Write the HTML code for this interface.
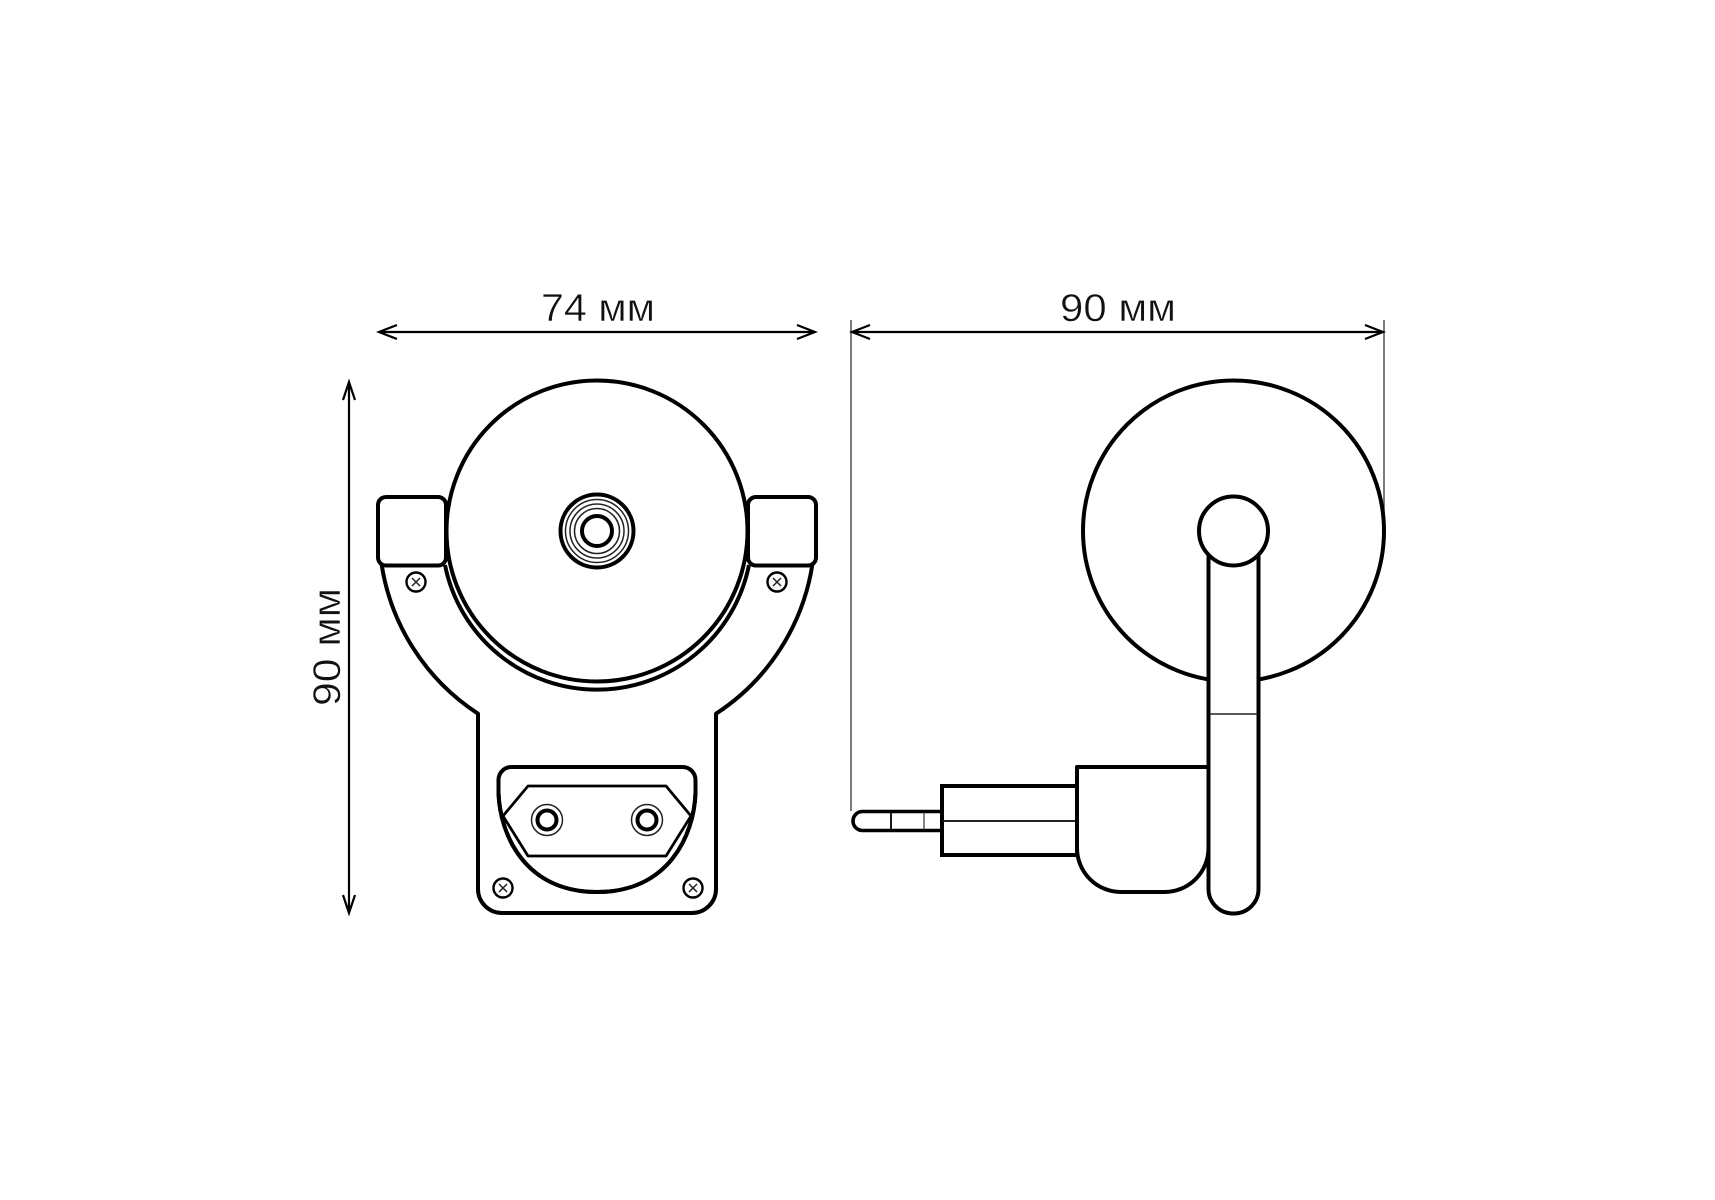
<!DOCTYPE html>
<html lang="ru">
<head>
<meta charset="utf-8">
<title>Dimensions</title>
<style>
html,body{margin:0;padding:0;background:#fff;width:1715px;height:1200px;overflow:hidden}
svg{display:block}
text{font-family:"Liberation Sans","DejaVu Sans",sans-serif;font-size:39px;fill:#111;stroke:#fff;stroke-width:.5px}
.m{fill:#fff;stroke:#000;stroke-width:4;stroke-linejoin:round}
.n{fill:none;stroke:#000;stroke-width:4}
.t{fill:none;stroke:#222;stroke-width:1.5}
.d{fill:none;stroke:#000;stroke-width:2.2}
.e{fill:none;stroke:#444;stroke-width:1.4}
</style>
</head>
<body>
<svg width="1715" height="1200" viewBox="0 0 1715 1200" xmlns="http://www.w3.org/2000/svg">
<rect width="1715" height="1200" fill="#fff"/>

<!-- Dimensions: front -->
<path class="d" d="M379 332H815M397 325L379 332L397 339M797 325L815 332L797 339"/>
<path class="d" d="M349 383V912M343 400L349 382L355 400M343 895L349 913L355 895"/>
<text x="541" y="321" textLength="114" lengthAdjust="spacingAndGlyphs">74 мм</text>
<text transform="translate(340 706) rotate(-90)" x="0" y="0" textLength="118" lengthAdjust="spacingAndGlyphs">90 мм</text>

<!-- Dimensions: side -->
<path class="e" d="M851 320V811M1384 320V525"/>
<path class="d" d="M852 332H1383M870 325L852 332L870 339M1365 325L1383 332L1365 339"/>
<text x="1060" y="321" textLength="116" lengthAdjust="spacingAndGlyphs">90 мм</text>

<!-- Front view -->
<path class="m" d="M381.400 563A218 218 0 0 0 478 713.700V889A24 24 0 0 0 502 913H692A24 24 0 0 0 716 889V713.700A218 218 0 0 0 812.600 563"/>
<path class="n" d="M445 565A155 155 0 0 0 749 565"/>
<rect class="m" x="378" y="497" width="68" height="68.500" rx="8"/>
<rect class="m" x="748" y="497" width="68" height="68.500" rx="8"/>
<circle class="m" cx="597" cy="531" r="150.500"/>
<circle class="m" cx="597" cy="531" r="36.500"/>
<circle class="t" cx="597" cy="531" r="31.500"/>
<circle class="t" cx="597" cy="531" r="27"/>
<circle class="t" cx="597" cy="531" r="22.500"/>
<circle cx="597" cy="531" r="15" fill="#fff" stroke="#000" stroke-width="4"/>

<g>
<circle cx="416" cy="582" r="9.500" fill="#fff" stroke="#000" stroke-width="2.400"/>
<path class="t" d="M412 578L420 586M420 578L412 586"/>
<circle cx="777" cy="582" r="9.500" fill="#fff" stroke="#000" stroke-width="2.400"/>
<path class="t" d="M773 578L781 586M781 578L773 586"/>
<circle cx="503" cy="888" r="9.500" fill="#fff" stroke="#000" stroke-width="2.400"/>
<path class="t" d="M499 884L507 892M507 884L499 892"/>
<circle cx="693" cy="888" r="9.500" fill="#fff" stroke="#000" stroke-width="2.400"/>
<path class="t" d="M689 884L697 892M697 884L689 892"/>
</g>

<path class="m" d="M498.500 793V780A13 13 0 0 1 512 767H682A13 13 0 0 1 695.500 780V793C694 835 669 892 597 892C525 892 500 835 498.500 793Z"/>
<path d="M528 786H666L691 816L666 856H528L503 816Z" fill="#fff" stroke="#000" stroke-width="2.800" stroke-linejoin="round"/>
<path class="n" d="M498.500 790V793C500 835 525 892 597 892C669 892 694 835 695.500 793V790"/>
<circle class="t" cx="547" cy="820" r="15.500"/>
<circle cx="547" cy="820" r="9.500" fill="#fff" stroke="#000" stroke-width="4"/>
<circle class="t" cx="647" cy="820" r="15.500"/>
<circle cx="647" cy="820" r="9.500" fill="#fff" stroke="#000" stroke-width="4"/>

<!-- Side view -->
<circle class="m" cx="1233.500" cy="531" r="150.500"/>
<path class="m" d="M1208.500 540V889A24.500 24.500 0 0 0 1233 913.500H1234A24.500 24.500 0 0 0 1258.500 889V540Z"/>
<path class="t" d="M1210 714H1257"/>
<circle class="m" cx="1233.500" cy="531" r="34.500"/>

<path d="M853 821A9.500 9.500 0 0 1 862 811.500H942V830.500H862A9.500 9.500 0 0 1 853 821Z" fill="#fff" stroke="#000" stroke-width="3.600"/>
<path stroke="#000" stroke-width="1.800" d="M891 812V830"/>
<path stroke="#333" stroke-width="1.200" d="M924 812V830"/>
<rect x="942" y="786" width="135" height="69" fill="#fff" stroke="#000" stroke-width="4"/>
<path stroke="#222" stroke-width="2" d="M943 821H1076"/>
<path class="m" d="M1077 767H1208.500V848A44 44 0 0 1 1164.500 892H1121A44 44 0 0 1 1077 848Z"/>
</svg>
</body>
</html>
